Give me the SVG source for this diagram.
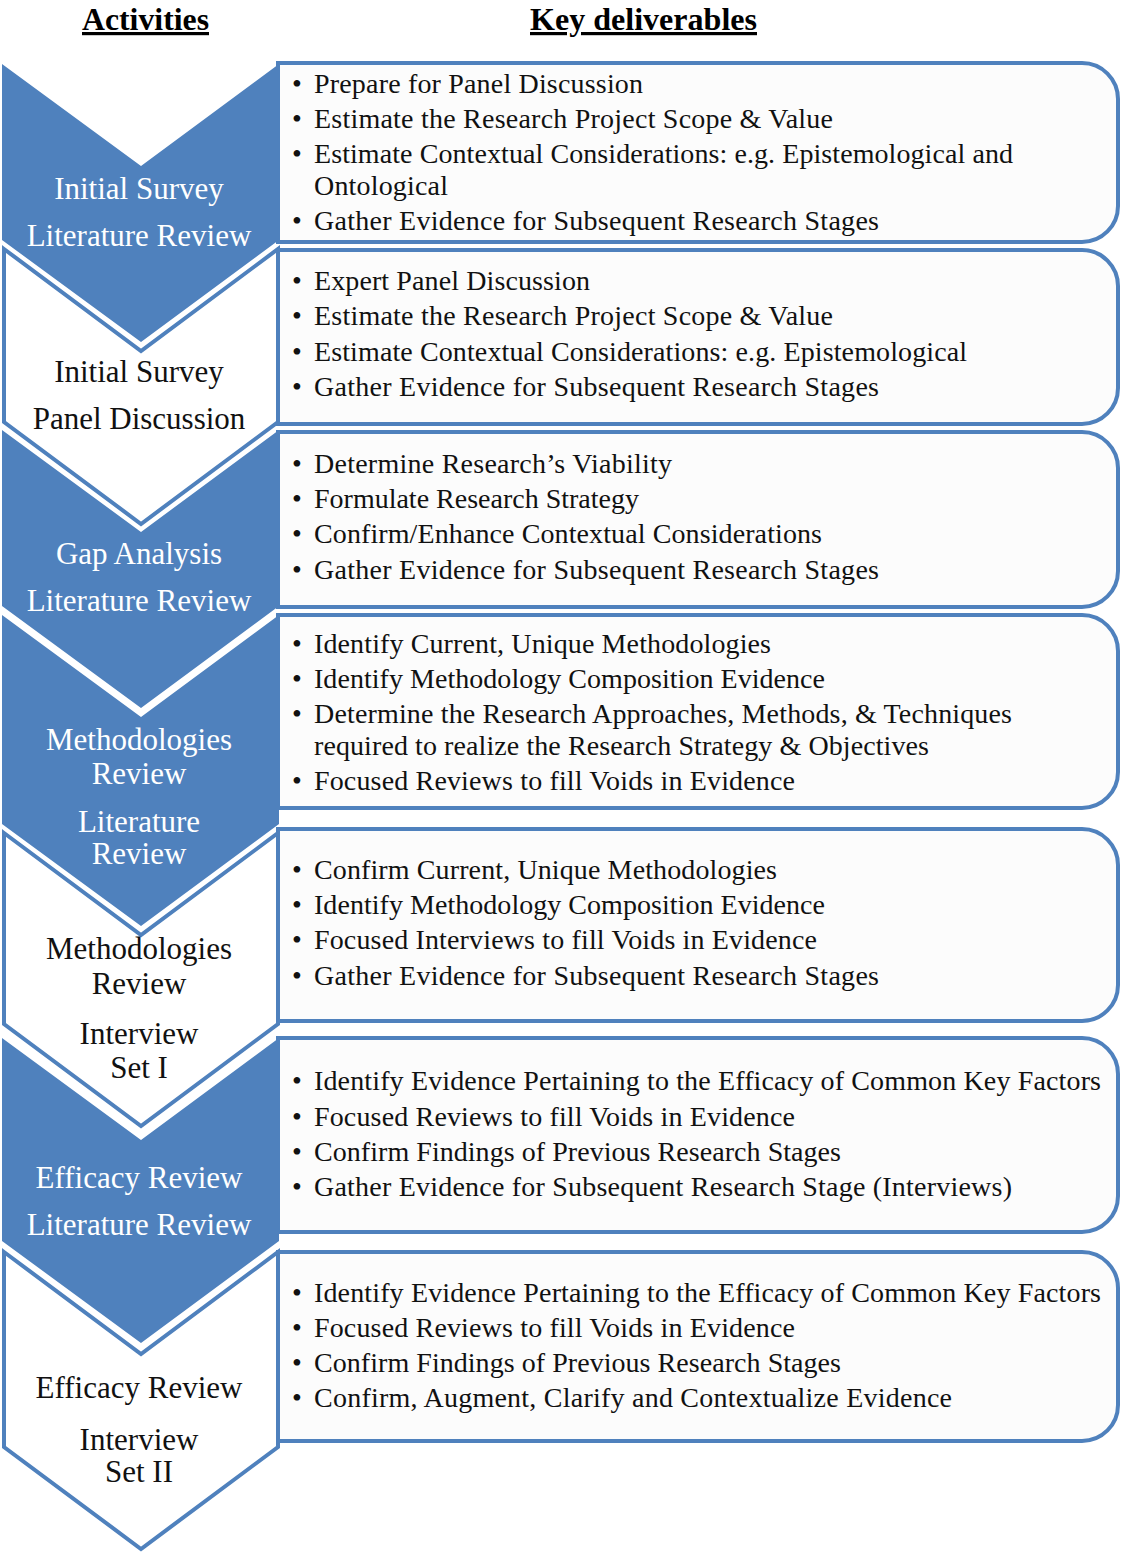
<svg xmlns="http://www.w3.org/2000/svg" width="1123" height="1555" viewBox="0 0 1123 1555">
  <style>
    .hdr { font-family: "Liberation Serif", "Times New Roman", serif; font-size: 32px; font-weight: bold; fill: #000; text-decoration: underline; }
    .box { fill: #fcfcfc; stroke: #4f81bd; stroke-width: 4; }
    .chev-fill { fill: #4f81bd; stroke: none; }
    .chev-line { fill: #ffffff; stroke: #4f81bd; stroke-width: 4; stroke-linejoin: miter; }
    .lbl { font-family: "Liberation Serif", "Times New Roman", serif; font-size: 31px; text-anchor: middle; }
    .lbl-w { fill: #ffffff; }
    .lbl-k { fill: #111111; }
    .item { font-family: "Liberation Serif", "Times New Roman", serif; font-size: 28px; fill: #111111; }
    .dot { font-family: "Liberation Serif", "Times New Roman", serif; font-size: 28px; fill: #111111; }
  </style>

  <!-- column headings -->
  <g id="headings">
    <text class="hdr" x="82" y="30" textLength="127" lengthAdjust="spacingAndGlyphs">Activities</text>
    <text class="hdr" x="530" y="30" textLength="227" lengthAdjust="spacingAndGlyphs">Key deliverables</text>
  </g>

  <!-- deliverable boxes: square left side, rounded right corners -->
  <g id="box-1">
    <path class="box" d="M278,63 H1082 A36,36 0 0 1 1118,99 V206 A36,36 0 0 1 1082,242 H278 Z"/>
    <text class="dot" x="292" y="93">•</text><text class="item" x="314" y="93" textLength="329" lengthAdjust="spacing">Prepare for Panel Discussion</text>
    <text class="dot" x="292" y="128">•</text><text class="item" x="314" y="128" textLength="519" lengthAdjust="spacing">Estimate the Research Project Scope &amp; Value</text>
    <text class="dot" x="292" y="163">•</text><text class="item" x="314" y="163" textLength="699" lengthAdjust="spacing">Estimate Contextual Considerations: e.g. Epistemological and</text>
    <text class="item" x="314" y="195" textLength="134" lengthAdjust="spacing">Ontological</text>
    <text class="dot" x="292" y="230">•</text><text class="item" x="314" y="230" textLength="565" lengthAdjust="spacing">Gather Evidence for Subsequent  Research Stages</text>
  </g>

  <g id="box-2">
    <path class="box" d="M278,250 H1082 A36,36 0 0 1 1118,286 V388 A36,36 0 0 1 1082,424 H278 Z"/>
    <text class="dot" x="292" y="290">•</text><text class="item" x="314" y="290" textLength="276" lengthAdjust="spacing">Expert Panel Discussion</text>
    <text class="dot" x="292" y="325">•</text><text class="item" x="314" y="325" textLength="519" lengthAdjust="spacing">Estimate the Research Project Scope &amp; Value</text>
    <text class="dot" x="292" y="361">•</text><text class="item" x="314" y="361" textLength="653" lengthAdjust="spacing">Estimate Contextual Considerations: e.g. Epistemological</text>
    <text class="dot" x="292" y="396">•</text><text class="item" x="314" y="396" textLength="565" lengthAdjust="spacing">Gather Evidence for Subsequent  Research Stages</text>
  </g>

  <g id="box-3">
    <path class="box" d="M278,432 H1082 A36,36 0 0 1 1118,468 V571 A36,36 0 0 1 1082,607 H278 Z"/>
    <text class="dot" x="292" y="473">•</text><text class="item" x="314" y="473" textLength="358" lengthAdjust="spacing">Determine Research’s Viability</text>
    <text class="dot" x="292" y="508">•</text><text class="item" x="314" y="508" textLength="325" lengthAdjust="spacing">Formulate Research Strategy</text>
    <text class="dot" x="292" y="543">•</text><text class="item" x="314" y="543" textLength="508" lengthAdjust="spacing">Confirm/Enhance Contextual Considerations</text>
    <text class="dot" x="292" y="579">•</text><text class="item" x="314" y="579" textLength="565" lengthAdjust="spacing">Gather Evidence for Subsequent  Research Stages</text>
  </g>

  <g id="box-4">
    <path class="box" d="M278,615 H1082 A36,36 0 0 1 1118,651 V772 A36,36 0 0 1 1082,808 H278 Z"/>
    <text class="dot" x="292" y="653">•</text><text class="item" x="314" y="653" textLength="457" lengthAdjust="spacing">Identify Current, Unique Methodologies</text>
    <text class="dot" x="292" y="688">•</text><text class="item" x="314" y="688" textLength="511" lengthAdjust="spacing">Identify Methodology Composition Evidence</text>
    <text class="dot" x="292" y="723">•</text><text class="item" x="314" y="723" textLength="698" lengthAdjust="spacing">Determine the Research Approaches, Methods, &amp; Techniques</text>
    <text class="item" x="314" y="755" textLength="615" lengthAdjust="spacing">required to realize the Research Strategy &amp; Objectives</text>
    <text class="dot" x="292" y="790">•</text><text class="item" x="314" y="790" textLength="481" lengthAdjust="spacing">Focused Reviews to fill Voids in Evidence</text>
  </g>

  <g id="box-5">
    <path class="box" d="M278,829 H1082 A36,36 0 0 1 1118,865 V985 A36,36 0 0 1 1082,1021 H278 Z"/>
    <text class="dot" x="292" y="879">•</text><text class="item" x="314" y="879" textLength="463" lengthAdjust="spacing">Confirm Current, Unique Methodologies</text>
    <text class="dot" x="292" y="914">•</text><text class="item" x="314" y="914" textLength="511" lengthAdjust="spacing">Identify Methodology Composition Evidence</text>
    <text class="dot" x="292" y="949">•</text><text class="item" x="314" y="949" textLength="503" lengthAdjust="spacing">Focused Interviews to fill Voids in Evidence</text>
    <text class="dot" x="292" y="985">•</text><text class="item" x="314" y="985" textLength="565" lengthAdjust="spacing">Gather Evidence for Subsequent  Research Stages</text>
  </g>

  <g id="box-6">
    <path class="box" d="M278,1038 H1082 A36,36 0 0 1 1118,1074 V1196 A36,36 0 0 1 1082,1232 H278 Z"/>
    <text class="dot" x="292" y="1090">•</text><text class="item" x="314" y="1090" textLength="787" lengthAdjust="spacing">Identify Evidence Pertaining to the Efficacy of Common Key Factors</text>
    <text class="dot" x="292" y="1126">•</text><text class="item" x="314" y="1126" textLength="481" lengthAdjust="spacing">Focused Reviews to fill Voids in Evidence</text>
    <text class="dot" x="292" y="1161">•</text><text class="item" x="314" y="1161" textLength="527" lengthAdjust="spacing">Confirm Findings of Previous Research Stages</text>
    <text class="dot" x="292" y="1196">•</text><text class="item" x="314" y="1196" textLength="698" lengthAdjust="spacing">Gather Evidence for Subsequent  Research Stage (Interviews)</text>
  </g>

  <g id="box-7">
    <path class="box" d="M278,1252 H1082 A36,36 0 0 1 1118,1288 V1405 A36,36 0 0 1 1082,1441 H278 Z"/>
    <text class="dot" x="292" y="1302">•</text><text class="item" x="314" y="1302" textLength="787" lengthAdjust="spacing">Identify Evidence Pertaining to the Efficacy of Common Key Factors</text>
    <text class="dot" x="292" y="1337">•</text><text class="item" x="314" y="1337" textLength="481" lengthAdjust="spacing">Focused Reviews to fill Voids in Evidence</text>
    <text class="dot" x="292" y="1372">•</text><text class="item" x="314" y="1372" textLength="527" lengthAdjust="spacing">Confirm Findings of Previous Research Stages</text>
    <text class="dot" x="292" y="1407">•</text><text class="item" x="314" y="1407" textLength="638" lengthAdjust="spacing">Confirm, Augment, Clarify and Contextualize  Evidence</text>
  </g>

  <!-- activity chevrons (downward arrows nested into each other) -->
  <g id="chevron-1">
    <polygon class="chev-fill" points="2,64 141,166 279,64 279,240 141,342 2,240"/>
    <text class="lbl lbl-w" x="139" y="199">Initial Survey</text>
    <text class="lbl lbl-w" x="139" y="246">Literature Review</text>
  </g>

  <g id="chevron-2">
    <polygon class="chev-line" points="4,249 141,351 278,249 278,422 141,524 4,422"/>
    <text class="lbl lbl-k" x="139" y="382">Initial Survey</text>
    <text class="lbl lbl-k" x="139" y="429">Panel Discussion</text>
  </g>

  <g id="chevron-3">
    <polygon class="chev-fill" points="2,430 141,532 279,430 279,606 141,708 2,606"/>
    <text class="lbl lbl-w" x="139" y="564">Gap Analysis</text>
    <text class="lbl lbl-w" x="139" y="611">Literature Review</text>
  </g>

  <g id="chevron-4">
    <polygon class="chev-fill" points="2,615 141,717 279,615 279,824 141,926 2,824"/>
    <text class="lbl lbl-w" x="139" y="750">Methodologies</text>
    <text class="lbl lbl-w" x="139" y="784">Review</text>
    <text class="lbl lbl-w" x="139" y="832">Literature</text>
    <text class="lbl lbl-w" x="139" y="864">Review</text>
  </g>

  <g id="chevron-5">
    <polygon class="chev-line" points="4,833 141,935 278,833 278,1024 141,1126 4,1024"/>
    <text class="lbl lbl-k" x="139" y="959">Methodologies</text>
    <text class="lbl lbl-k" x="139" y="994">Review</text>
    <text class="lbl lbl-k" x="139" y="1044">Interview</text>
    <text class="lbl lbl-k" x="139" y="1078">Set I</text>
  </g>

  <g id="chevron-6">
    <polygon class="chev-fill" points="2,1038 141,1140 279,1038 279,1241 141,1343 2,1241"/>
    <text class="lbl lbl-w" x="139" y="1188">Efficacy Review</text>
    <text class="lbl lbl-w" x="139" y="1235">Literature Review</text>
  </g>

  <g id="chevron-7">
    <polygon class="chev-line" points="4,1252 141,1354 278,1252 278,1447 141,1549 4,1447"/>
    <text class="lbl lbl-k" x="139" y="1398">Efficacy Review</text>
    <text class="lbl lbl-k" x="139" y="1450">Interview</text>
    <text class="lbl lbl-k" x="139" y="1482">Set II</text>
  </g>

  <!-- no connectors: the chevrons themselves carry the flow -->
  <g id="connectors"/>
</svg>
